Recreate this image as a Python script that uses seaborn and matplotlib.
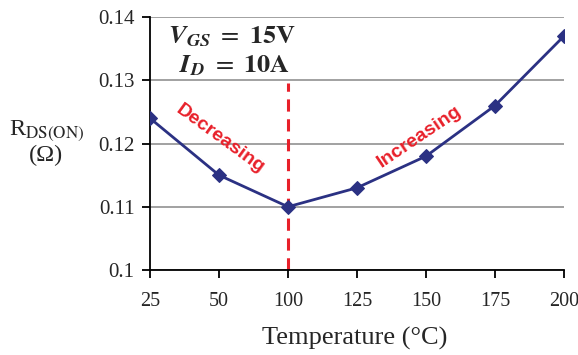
import numpy as np
import pandas as pd
import matplotlib
matplotlib.use("Agg")
import matplotlib.pyplot as plt
import seaborn as sns

temps = ["25", "50", "100", "125", "150", "175", "200"]
rds_on = [0.124, 0.115, 0.110, 0.113, 0.118, 0.126, 0.137]
yticks = [0.10, 0.11, 0.12, 0.13, 0.14]
ytick_labels = ["0.1", "0.11", "0.12", "0.13", "0.14"]

sns.set_theme(style="white")
plt.rcParams["font.family"] = ["Liberation Serif", "DejaVu Serif"]
plt.rcParams["mathtext.fontset"] = "stix"

df = pd.DataFrame({"pos": np.arange(len(temps)), "r": rds_on})

fig = plt.figure(figsize=(5.78, 3.55), dpi=100)
ax = fig.add_axes([0.2595, 0.2394, 0.9758 - 0.2595, 0.952 - 0.2394])

ax.yaxis.grid(True, color="#9a9a9a", linewidth=1.3)
ax.set_axisbelow(True)

sns.lineplot(data=df, x="pos", y="r", ax=ax, color="#2b3183", linewidth=2,
             marker="D", markersize=7.5, markeredgecolor="#2b3183", zorder=3)

i100 = temps.index("100")
ax.plot([i100, i100], [0.10, 0.1295], color="#e8202a", linestyle=(0, (4, 2.5)),
        linewidth=2.2, zorder=2)

ax.set_xlim(0, len(temps) - 1)
ax.set_ylim(0.10, 0.14)
ax.set_xticks(np.arange(len(temps)))
ax.set_xticklabels(temps)
ax.set_yticks(yticks)
ax.set_yticklabels(ytick_labels)
ax.tick_params(axis="both", direction="out", length=6, width=1.3, color="black",
               labelsize=15, pad=5, bottom=True, left=True)
ax.tick_params(axis="x", pad=10, labelsize=14.5)

for s in ["top", "right"]:
    ax.spines[s].set_visible(False)
for s in ["left", "bottom"]:
    ax.spines[s].set_color("black")
    ax.spines[s].set_linewidth(1.3)

ax.set_xlabel("")
ax.set_ylabel("")
fig.text(0.614, 1 - 345 / 355, "Temperature (°C)", fontsize=19, ha="center",
         va="baseline")
fig.text(0.08, 0.60, "R$_{\\mathrm{DS(ON)}}$\n(Ω)", fontsize=17.5, ha="center",
         va="center", linespacing=1.15)

ax.text(1.19, 0.1359, r"$\mathbfit{V}_{\mathbfit{GS}}\ =\ \mathbf{15V}$", fontsize=19,
        ha="center", va="baseline")
ax.text(1.23, 0.13125, r"$\mathbfit{I}_{\mathbfit{D}}\ =\ \mathbf{10A}$", fontsize=19,
        ha="center", va="baseline")

ax.text(1.02, 0.1207, "Decreasing", color="#e8202a", fontsize=14, fontweight="bold",
        family=["Liberation Sans", "DejaVu Sans"], rotation=-36, ha="center", va="center")
ax.text(3.9, 0.1211, "Increasing", color="#e8202a", fontsize=14, fontweight="bold",
        family=["Liberation Sans", "DejaVu Sans"], rotation=34, ha="center", va="center")

fig.savefig("out.png", dpi=100)
